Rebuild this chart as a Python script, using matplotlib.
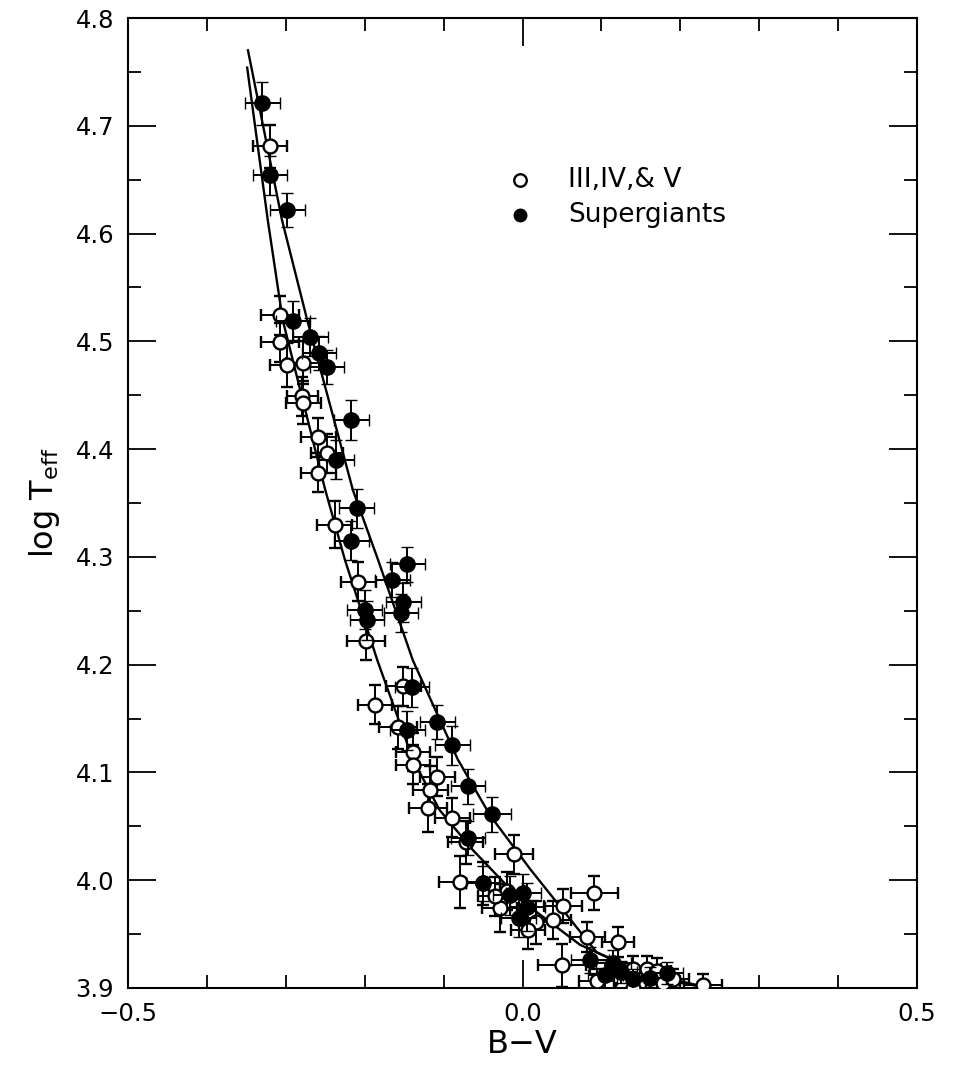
import matplotlib
matplotlib.use("Agg")
import matplotlib.pyplot as plt
from matplotlib.ticker import MultipleLocator, FixedLocator, FuncFormatter

# ---- data: luminosity classes III, IV & V (open) ----
dw_bv = [-0.320, -0.307, -0.307, -0.298, -0.278, -0.279, -0.278, -0.259, -0.248, -0.259,
         -0.238, -0.208, -0.198, -0.187, -0.151, -0.158, -0.139, -0.139, -0.108, -0.117,
         -0.120, -0.089, -0.072, -0.011, -0.079, -0.050, -0.029, 0.091, 0.051, 0.017,
         0.039, 0.007, 0.082, 0.121, 0.050, 0.094, 0.140, 0.178, 0.191, 0.229,
         0.140, 0.158, 0.170, -0.020, -0.035]
dw_logt = [4.681, 4.524, 4.499, 4.478, 4.480, 4.449, 4.443, 4.411, 4.396, 4.378,
           4.330, 4.277, 4.222, 4.163, 4.180, 4.142, 4.119, 4.107, 4.096, 4.084,
           4.067, 4.058, 4.035, 4.024, 3.998, 3.997, 3.974, 3.988, 3.976, 3.961,
           3.963, 3.954, 3.947, 3.943, 3.921, 3.906, 3.900, 3.905, 3.908, 3.903,
           3.918, 3.918, 3.916, 3.990, 3.985]
dw_xerr = [0.022, 0.024, 0.024, 0.022, 0.022, 0.020, 0.022, 0.022, 0.020, 0.022,
           0.022, 0.022, 0.024, 0.022, 0.022, 0.024, 0.022, 0.022, 0.022, 0.022,
           0.024, 0.022, 0.022, 0.024, 0.027, 0.022, 0.022, 0.030, 0.024, 0.022,
           0.022, 0.022, 0.022, 0.020, 0.030, 0.022, 0.022, 0.022, 0.020, 0.024,
           0.018, 0.018, 0.018, 0.022, 0.022]
dw_yerr = [0.020, 0.018, 0.018, 0.020, 0.020, 0.018, 0.020, 0.018, 0.018, 0.018,
           0.022, 0.018, 0.018, 0.018, 0.018, 0.020, 0.018, 0.018, 0.018, 0.022,
           0.022, 0.018, 0.020, 0.018, 0.024, 0.020, 0.022, 0.016, 0.016, 0.020,
           0.018, 0.018, 0.014, 0.014, 0.020, 0.012, 0.010, 0.010, 0.010, 0.010,
           0.012, 0.012, 0.012, 0.018, 0.018]

# ---- data: supergiants (filled) ----
sg_bv = [-0.330, -0.320, -0.298, -0.291, -0.269, -0.258, -0.248, -0.217, -0.236, -0.210,
         -0.217, -0.146, -0.165, -0.151, -0.154, -0.200, -0.197, -0.140, -0.108, -0.146,
         -0.089, -0.069, -0.039, -0.069, -0.050, 0.001, 0.006, -0.016, -0.005, 0.086,
         0.115, 0.140, 0.183, 0.162, 0.105, 0.125]
sg_logt = [4.721, 4.654, 4.622, 4.519, 4.504, 4.489, 4.476, 4.427, 4.390, 4.345,
           4.315, 4.293, 4.279, 4.258, 4.248, 4.251, 4.241, 4.179, 4.147, 4.139,
           4.125, 4.087, 4.061, 4.039, 3.997, 3.988, 3.975, 3.986, 3.965, 3.926,
           3.923, 3.908, 3.914, 3.909, 3.912, 3.915]
sg_xerr = [0.022, 0.022, 0.022, 0.022, 0.022, 0.022, 0.022, 0.022, 0.022, 0.022,
           0.022, 0.022, 0.022, 0.022, 0.022, 0.022, 0.022, 0.022, 0.022, 0.022,
           0.022, 0.022, 0.024, 0.022, 0.022, 0.022, 0.022, 0.022, 0.022, 0.024,
           0.022, 0.020, 0.020, 0.020, 0.022, 0.020]
sg_yerr = [0.020, 0.018, 0.016, 0.018, 0.018, 0.016, 0.016, 0.019, 0.018, 0.018,
           0.018, 0.016, 0.016, 0.018, 0.018, 0.018, 0.018, 0.018, 0.016, 0.018,
           0.018, 0.016, 0.016, 0.016, 0.016, 0.018, 0.022, 0.018, 0.018, 0.012,
           0.012, 0.010, 0.010, 0.010, 0.012, 0.010]

# ---- calibration curves ----
dw_curve_bv = [-0.349, -0.323, -0.304, -0.250, -0.225, -0.184, -0.139, -0.105, -0.063,
               -0.003, 0.073, 0.149, 0.225]
dw_curve_logt = [4.754, 4.613, 4.520, 4.362, 4.297, 4.204, 4.112, 4.065, 4.028,
                 3.982, 3.940, 3.915, 3.902]
sg_curve_bv = [-0.348, -0.305, -0.273, -0.215, -0.183, -0.139, -0.082, -0.041, 0.010,
               0.094, 0.162, 0.250]
sg_curve_logt = [4.770, 4.613, 4.520, 4.362, 4.297, 4.204, 4.112, 4.060, 4.010,
                 3.933, 3.910, 3.898]

legend_labels = ["III,IV,& V", "Supergiants"]

fig = plt.figure(figsize=(9.57, 10.72), dpi=100)
ax = fig.add_axes([0.1338, 0.0784, 0.8244, 0.9048])

ax.plot(dw_curve_bv, dw_curve_logt, color="black", lw=1.7, zorder=2)
ax.plot(sg_curve_bv, sg_curve_logt, color="black", lw=1.7, zorder=2)

ax.errorbar(dw_bv, dw_logt, xerr=dw_xerr, yerr=dw_yerr, fmt="o", ms=10,
            mfc="white", mec="black", mew=1.7, ecolor="black", elinewidth=1.4,
            capsize=4.5, capthick=1.4, zorder=3)
ax.errorbar(sg_bv, sg_logt, xerr=sg_xerr, yerr=sg_yerr, fmt="o", ms=11,
            mfc="black", mec="black", mew=1.0, ecolor="black", elinewidth=1.4,
            capsize=4.5, capthick=1.4, zorder=4)

# legend
ax.plot([0.497], [0.833], "o", ms=9, mfc="white", mec="black", mew=1.7,
        transform=ax.transAxes)
ax.plot([0.497], [0.797], "o", ms=9, mfc="black", mec="black",
        transform=ax.transAxes)
ax.text(0.558, 0.833, legend_labels[0], transform=ax.transAxes, va="center",
        ha="left", fontsize=19)
ax.text(0.558, 0.797, legend_labels[1], transform=ax.transAxes, va="center",
        ha="left", fontsize=19)


def fmt(v, pos):
    s = f"{v:.1f}"
    if s == "-0.0":
        s = "0.0"
    return s.replace("-", "\u2212")


ax.set_xlim(-0.5, 0.5)
ax.set_ylim(3.9, 4.8)
ax.xaxis.set_major_locator(FixedLocator([-0.5, 0.0, 0.5]))
ax.xaxis.set_minor_locator(MultipleLocator(0.1))
ax.yaxis.set_major_locator(MultipleLocator(0.1))
ax.yaxis.set_minor_locator(MultipleLocator(0.05))
ax.xaxis.set_major_formatter(FuncFormatter(fmt))
ax.yaxis.set_major_formatter(FuncFormatter(fmt))
ax.tick_params(which="both", direction="in", top=True, right=True, width=1.3,
               labelsize=17.5, colors="black")
ax.tick_params(which="major", length=20, pad=10)
ax.tick_params(which="minor", length=9.5)
for s in ax.spines.values():
    s.set_linewidth(1.5)

ax.set_xlabel("B\u2212V", fontsize=23, labelpad=2)
ax.set_ylabel(r"log T$_{\rm eff}$", fontsize=23, labelpad=10)

fig.savefig("out.png", dpi=100, facecolor="white")
